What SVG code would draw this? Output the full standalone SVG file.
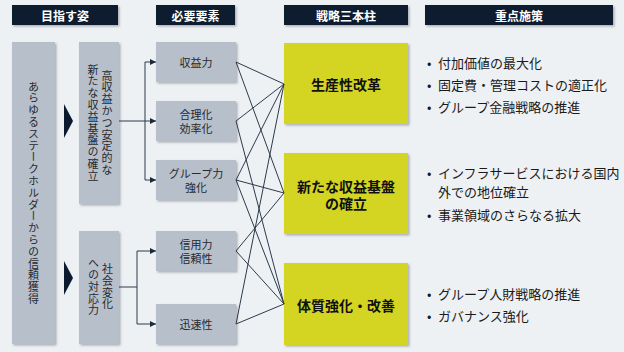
<svg xmlns="http://www.w3.org/2000/svg" width="624" height="352" viewBox="0 0 624 352">
<defs>
<filter id="sh" x="-10%" y="-10%" width="130%" height="130%">
<feDropShadow dx="1.5" dy="1.5" stdDeviation="0.8" flood-color="#6f7884" flood-opacity="0.55"/>
</filter>
<marker id="ah" viewBox="0 0 10 10" refX="10" refY="5" markerWidth="6" markerHeight="6" markerUnits="userSpaceOnUse" orient="auto">
<path d="M0,0 L10,5 L0,10 z" fill="#1e2a38"/>
</marker>
</defs>
<style>
text{font-family:"Noto Sans CJK JP","Noto Sans",sans-serif}
.hd{fill:#0c1a2e;filter:url(#sh)}
.ht{fill:#ffffff;font-size:12px;font-weight:bold;text-anchor:middle;dominant-baseline:central}
.gb{fill:#b7bfca;filter:url(#sh)}
.yb{fill:#d4d520;filter:url(#sh)}
.gt{fill:#262a30;font-size:11px;text-anchor:middle;dominant-baseline:central}
.vt{fill:#262a30;font-size:11px;letter-spacing:0.8px;text-anchor:middle;dominant-baseline:central;writing-mode:vertical-rl}
.yt{fill:#111111;font-size:14px;font-weight:bold;text-anchor:middle;dominant-baseline:central}
.bt{fill:#1a1a1a;font-size:13px;dominant-baseline:central}
.cn{stroke:#2c3a4c;stroke-width:1;fill:none}
.tri{fill:#0c1a2e}
</style>
<rect width="624" height="352" fill="#eef1f4"/>

<g id="headers">
<g id="h1"><rect class="hd" x="12" y="5" width="106" height="20"/><text class="ht" x="65" y="15">目指す姿</text></g>
<g id="h2"><rect class="hd" x="156" y="5" width="79" height="20"/><text class="ht" x="195.5" y="15">必要要素</text></g>
<g id="h3"><rect class="hd" x="284" y="5" width="124" height="20"/><text class="ht" x="346" y="15">戦略三本柱</text></g>
<g id="h4"><rect class="hd" x="425" y="5" width="188" height="20"/><text class="ht" x="519" y="15">重点施策</text></g>
</g>

<g id="goal">
<rect class="gb" x="12" y="42" width="43" height="302"/>
<text class="vt" x="33.5" y="193">あらゆるステークホルダーからの信頼獲得</text>
</g>
<polygon class="tri" points="64,104 73,121 64,138"/>
<polygon class="tri" points="64,261 73,278 64,295"/>

<g id="goal-a">
<rect class="gb" x="79" y="42" width="40" height="162"/>
<text class="vt" x="107" y="123">高収益かつ安定的な</text>
<text class="vt" x="93" y="123">新たな収益基盤の確立</text>
</g>
<g id="goal-b">
<rect class="gb" x="79" y="231" width="40" height="113"/>
<text class="vt" x="107.5" y="287">社会変化</text>
<text class="vt" x="93.5" y="287">への対応力</text>
</g>

<g id="e1"><rect class="gb" x="156" y="42" width="80" height="40"/><text class="gt" x="196" y="62">収益力</text></g>
<g id="e2"><rect class="gb" x="156" y="101" width="80" height="40"/><text class="gt"><tspan x="196" y="114">合理化</tspan><tspan x="196" y="128">効率化</tspan></text></g>
<g id="e3"><rect class="gb" x="156" y="160" width="80" height="40"/><text class="gt"><tspan x="196" y="173">グループ力</tspan><tspan x="196" y="187">強化</tspan></text></g>
<g id="e4"><rect class="gb" x="156" y="231" width="80" height="40"/><text class="gt"><tspan x="196" y="244">信用力</tspan><tspan x="196" y="258">信頼性</tspan></text></g>
<g id="e5"><rect class="gb" x="156" y="304" width="80" height="40"/><text class="gt" x="196" y="324">迅速性</text></g>

<g id="p1"><rect class="yb" x="284" y="43" width="124" height="81"/><text class="yt" x="346" y="84">生産性改革</text></g>
<g id="p2"><rect class="yb" x="284" y="153" width="124" height="81"/><text class="yt"><tspan x="346" y="186">新たな収益基盤</tspan><tspan x="346" y="203">の確立</tspan></text></g>
<g id="p3"><rect class="yb" x="284" y="263" width="124" height="82"/><text class="yt" x="346" y="305">体質強化・改善</text></g>

<g id="measures">
<text class="bt" y="62"><tspan x="427">•</tspan><tspan x="438">付加価値の最大化</tspan></text>
<text class="bt" y="84"><tspan x="427">•</tspan><tspan x="438">固定費・管理コストの適正化</tspan></text>
<text class="bt" y="106"><tspan x="427">•</tspan><tspan x="438">グループ金融戦略の推進</tspan></text>
<text class="bt"><tspan x="427" y="172">•</tspan><tspan x="438" y="172">インフラサービスにおける国内</tspan><tspan x="438" y="191">外での地位確立</tspan></text>
<text class="bt" y="214"><tspan x="427">•</tspan><tspan x="438">事業領域のさらなる拡大</tspan></text>
<text class="bt" y="293"><tspan x="427">•</tspan><tspan x="438">グループ人財戦略の推進</tspan></text>
<text class="bt" y="315"><tspan x="427">•</tspan><tspan x="438">ガバナンス強化</tspan></text>
</g>

<g id="connectors">
<path class="cn" d="M119,121 H156" marker-end="url(#ah)"/>
<path class="cn" d="M145,180 V62 H156" marker-end="url(#ah)"/>
<path class="cn" d="M145,180 H156" marker-end="url(#ah)"/>
<path class="cn" d="M119,287 H137"/>
<path class="cn" d="M137,324 V251 H156" marker-end="url(#ah)"/>
<path class="cn" d="M137,324 H156" marker-end="url(#ah)"/>
<path class="cn" d="M236,62 L284,84"/>
<path class="cn" d="M236,62 L284,193"/>
<path class="cn" d="M236,121 L284,84"/>
<path class="cn" d="M236,121 L284,304"/>
<path class="cn" d="M236,180 L284,84"/>
<path class="cn" d="M236,180 L284,193"/>
<path class="cn" d="M236,180 L284,304"/>
<path class="cn" d="M236,251 L284,193"/>
<path class="cn" d="M236,251 L284,304"/>
<path class="cn" d="M236,324 L284,84"/>
<path class="cn" d="M236,324 L284,304"/>
</g>
</svg>
